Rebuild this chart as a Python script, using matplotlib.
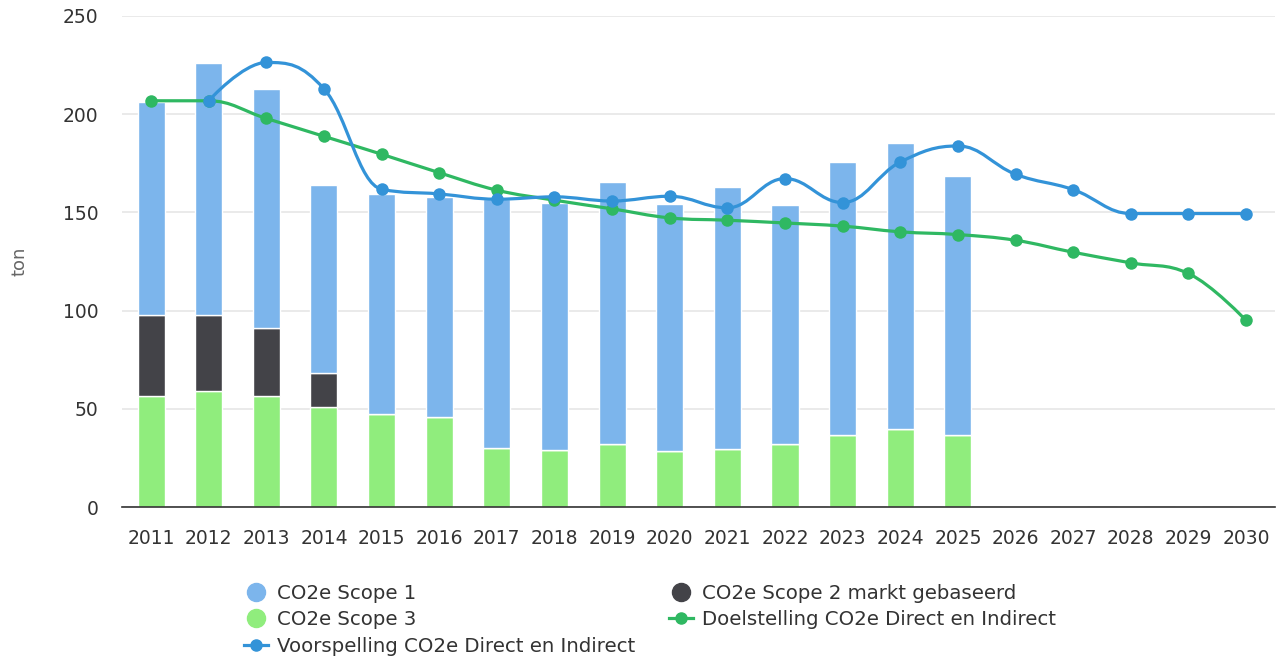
import numpy as np
import matplotlib
matplotlib.use("Agg")
import matplotlib.pyplot as plt
from matplotlib.path import Path
from matplotlib.patches import PathPatch
from matplotlib.lines import Line2D

years = [str(y) for y in range(2011, 2031)]
scope1 = [108.5, 128.4, 121.3, 95.4, 111.8, 112.0, 126.7, 125.9, 133.1, 126.0,
          133.1, 121.3, 138.9, 145.7, 131.7, 0, 0, 0, 0, 0]
scope2 = [41.0, 38.5, 34.7, 17.3, 0, 0, 0, 0, 0, 0,
          0, 0, 0, 0, 0, 0, 0, 0, 0, 0]
scope3 = [56.6, 59.1, 56.6, 51.1, 47.3, 45.7, 30.0, 29.1, 32.2, 28.3,
          29.8, 32.2, 36.7, 39.8, 36.7, 0, 0, 0, 0, 0]
doelstelling = [206.8, 206.8, 197.8, 188.7, 179.6, 170.2, 161.3, 156.2, 151.8, 147.2,
                146.0, 144.6, 143.0, 140.1, 138.7, 135.8, 129.7, 124.3, 118.9, 95.0]
voorspelling = [np.nan, 206.8, 226.3, 212.9, 161.8, 159.4, 156.7, 157.9, 155.8, 158.2,
                152.3, 167.2, 155.0, 175.6, 183.8, 169.4, 161.6, 149.4, 149.4, 149.4]

C_S1 = "#7cb5ec"
C_S2 = "#434348"
C_S3 = "#90ed7d"
C_DOEL = "#2fb862"
C_VOOR = "#3393d8"


def spline_path(xs, ys, smoothing=1.5):
    # highcharts-like spline: cubic bezier with control points per point
    n = len(xs)
    lc = [None] * n
    rc = [None] * n
    denom = smoothing + 1
    for i in range(1, n - 1):
        px, py = xs[i], ys[i]
        lx, ly = xs[i - 1], ys[i - 1]
        nx, ny = xs[i + 1], ys[i + 1]
        lcx = (smoothing * px + lx) / denom
        lcy = (smoothing * py + ly) / denom
        rcx = (smoothing * px + nx) / denom
        rcy = (smoothing * py + ny) / denom
        if rcx != lcx:
            corr = (rcy - lcy) * (rcx - px) / (rcx - lcx) + py - rcy
            lcy += corr
            rcy += corr
        if lcy > ly and lcy > py:
            lcy = max(ly, py)
            rcy = 2 * py - lcy
        elif lcy < ly and lcy < py:
            lcy = min(ly, py)
            rcy = 2 * py - lcy
        if rcy > ny and rcy > py:
            rcy = max(ny, py)
            lcy = 2 * py - rcy
        elif rcy < ny and rcy < py:
            rcy = min(ny, py)
            lcy = 2 * py - rcy
        lc[i] = (lcx, lcy)
        rc[i] = (rcx, rcy)
    verts = [(xs[0], ys[0])]
    codes = [Path.MOVETO]
    for i in range(1, n):
        c1 = rc[i - 1] if rc[i - 1] is not None else (xs[i - 1], ys[i - 1])
        c2 = lc[i] if lc[i] is not None else (xs[i], ys[i])
        verts += [c1, c2, (xs[i], ys[i])]
        codes += [Path.CURVE4] * 3
    return Path(verts, codes)


fig = plt.figure(figsize=(12.8, 6.62), dpi=100)
ax = fig.add_axes([0.0955, 0.234, 0.9005, 0.742])

x = np.arange(len(years))
s1 = np.array(scope1)
s2 = np.array(scope2)
s3 = np.array(scope3)
w = 0.47
ax.bar(x, s3, w, color=C_S3, edgecolor="white", linewidth=1, zorder=2)
ax.bar(x, s2, w, bottom=s3, color=C_S2, edgecolor="white", linewidth=1, zorder=2)
ax.bar(x, s1, w, bottom=s3 + s2, color=C_S1, edgecolor="white", linewidth=1, zorder=2)

for vals, col, z in [(doelstelling, C_DOEL, 3), (voorspelling, C_VOOR, 4)]:
    v = np.array(vals, dtype=float)
    ok = ~np.isnan(v)
    xs = x[ok].astype(float)
    ys = v[ok]
    ax.add_patch(PathPatch(spline_path(list(xs), list(ys)), facecolor="none",
                           edgecolor=col, linewidth=2.3, zorder=z))
    ax.plot(xs, ys, linestyle="none", marker="o", markersize=9, color=col,
            markeredgewidth=0, zorder=z)

ax.set_xlim(-0.5, len(years) - 0.5)
ax.set_ylim(0, 250)
ax.set_yticks([0, 50, 100, 150, 200, 250])
ax.set_xticks(x)
ax.set_xticklabels(years)
ax.tick_params(axis="both", length=0, labelsize=13.5, colors="#333333")
ax.tick_params(axis="y", pad=17)
ax.tick_params(axis="x", pad=16)
ax.grid(axis="y", color="#e6e6e6", linewidth=1.2, zorder=0)
ax.set_axisbelow(True)
for side in ["left", "right", "top"]:
    ax.spines[side].set_visible(False)
ax.spines["bottom"].set_color("#333333")
ax.spines["bottom"].set_linewidth(1.2)
ax.set_ylabel("ton", fontsize=13, color="#666666", labelpad=25)

handles = [
    Line2D([], [], linestyle="none", marker="o", markersize=13, color=C_S1),
    Line2D([], [], linestyle="none", marker="o", markersize=13, color=C_S3),
    Line2D([], [], color=C_VOOR, linewidth=2.3, marker="o", markersize=8),
    Line2D([], [], linestyle="none", marker="o", markersize=13, color=C_S2),
    Line2D([], [], color=C_DOEL, linewidth=2.3, marker="o", markersize=8),
]
labels = ["CO2e Scope 1", "CO2e Scope 3", "Voorspelling CO2e Direct en Indirect",
          "CO2e Scope 2 markt gebaseerd", "Doelstelling CO2e Direct en Indirect"]
fig.legend(handles, labels, ncol=2, loc="upper left", bbox_to_anchor=(0.183, 0.133),
           frameon=False, fontsize=14.2, labelcolor="#333333", handlelength=1.2,
           handletextpad=0.45, columnspacing=1.75, labelspacing=0.38, borderpad=0)

fig.savefig("out.png", dpi=100, facecolor="white")
